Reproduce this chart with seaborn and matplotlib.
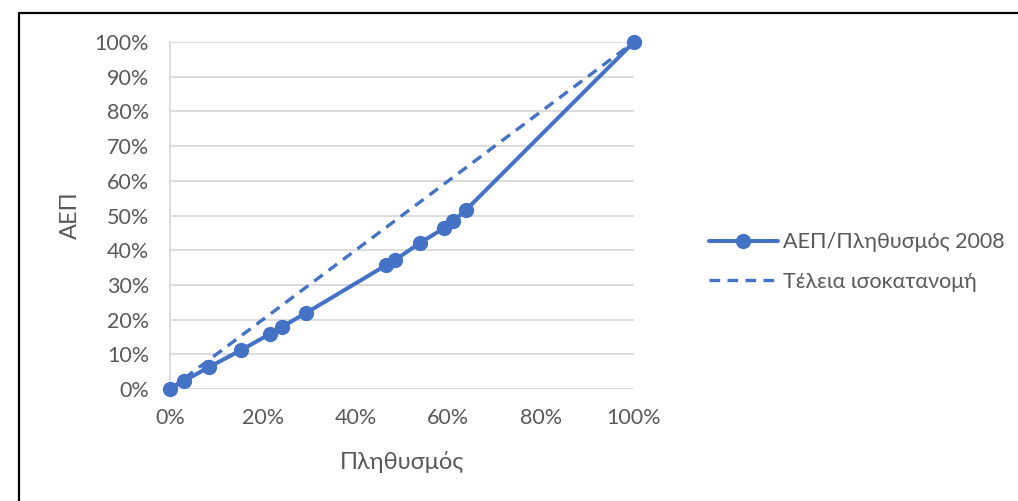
import numpy as np
import pandas as pd
import matplotlib.pyplot as plt
import seaborn as sns
from matplotlib.lines import Line2D
from matplotlib.ticker import PercentFormatter

# cumulative shares (Lorenz curve)
pop = [0.0, 0.030, 0.084, 0.153, 0.216, 0.241, 0.293, 0.466, 0.485, 0.539, 0.591, 0.610, 0.638, 1.0]
gdp = [0.0, 0.023, 0.063, 0.112, 0.159, 0.179, 0.219, 0.357, 0.372, 0.421, 0.464, 0.484, 0.516, 1.0]
equal = [0.0, 1.0]

label_curve = "ΑΕΠ/Πληθυσμός 2008"
label_equal = "Τέλεια ισοκατανομή"

sns.set_style("white")
plt.rcParams['font.family'] = ['Lato', 'DejaVu Sans']

blue = "#4472C4"
grey = "#595959"
W, H = 1018, 501

fig = plt.figure(figsize=(W / 100, H / 100), dpi=100)
ax = fig.add_axes([170 / W, 1 - 389 / H, (634 - 170) / W, (389 - 42) / H])

curve = pd.DataFrame({"x": pop, "y": gdp})
sns.lineplot(data=curve, x="x", y="y", ax=ax, color=blue, linewidth=2.9,
             marker="o", markersize=11, markeredgewidth=0, label=label_curve,
             zorder=3)
diag = pd.DataFrame({"x": equal, "y": equal})
sns.lineplot(data=diag, x="x", y="y", ax=ax, color=blue, linewidth=2.4,
             linestyle=(0, (3.2, 2.2)), label=label_equal, zorder=2)

ax.set_xlim(0, 1)
ax.set_ylim(0, 1)
ax.set_xticks(np.arange(0, 1.01, 0.2))
ax.set_yticks(np.arange(0, 1.01, 0.1))
ax.xaxis.set_major_formatter(PercentFormatter(1.0, decimals=0))
ax.yaxis.set_major_formatter(PercentFormatter(1.0, decimals=0))
ax.tick_params(axis="both", labelsize=15.5, labelcolor=grey, length=0)
ax.tick_params(axis="y", pad=15)
ax.tick_params(axis="x", pad=14)
ax.grid(axis="y", color="#d9d9d9", linewidth=1.3)
ax.grid(axis="x", visible=False)
for s in ["top", "right", "bottom"]:
    ax.spines[s].set_visible(False)
ax.spines["left"].set_color("#d9d9d9")
ax.spines["left"].set_linewidth(1.3)
for l in ax.lines:
    l.set_clip_on(False)

ax.set_xlabel("Πληθυσμός", fontsize=17, color=grey)
ax.set_ylabel("ΑΕΠ", fontsize=17, color=grey)
ax.xaxis.set_label_coords(0.5, (389 - 462) / 347)
ax.yaxis.set_label_coords((70 - 170) / 464, 0.5)
ax.xaxis.label.set_va("center")
ax.yaxis.label.set_va("center")

ax.legend(loc="center left", bbox_to_anchor=((698 - 170) / 464, (389 - 262) / 347),
          frameon=False, fontsize=15.5, labelcolor=grey, handlelength=3.2,
          labelspacing=0.9, handletextpad=0.25, borderpad=0)

# outer frame: only top and left edges are visible in the crop
fig.add_artist(Line2D([19 / W, 1], [1 - 12.5 / H, 1 - 12.5 / H],
                      transform=fig.transFigure, color="black", linewidth=1.6))
fig.add_artist(Line2D([19 / W, 19 / W], [0, 1 - 12.5 / H],
                      transform=fig.transFigure, color="black", linewidth=1.6))

fig.savefig("out.png", dpi=100)
